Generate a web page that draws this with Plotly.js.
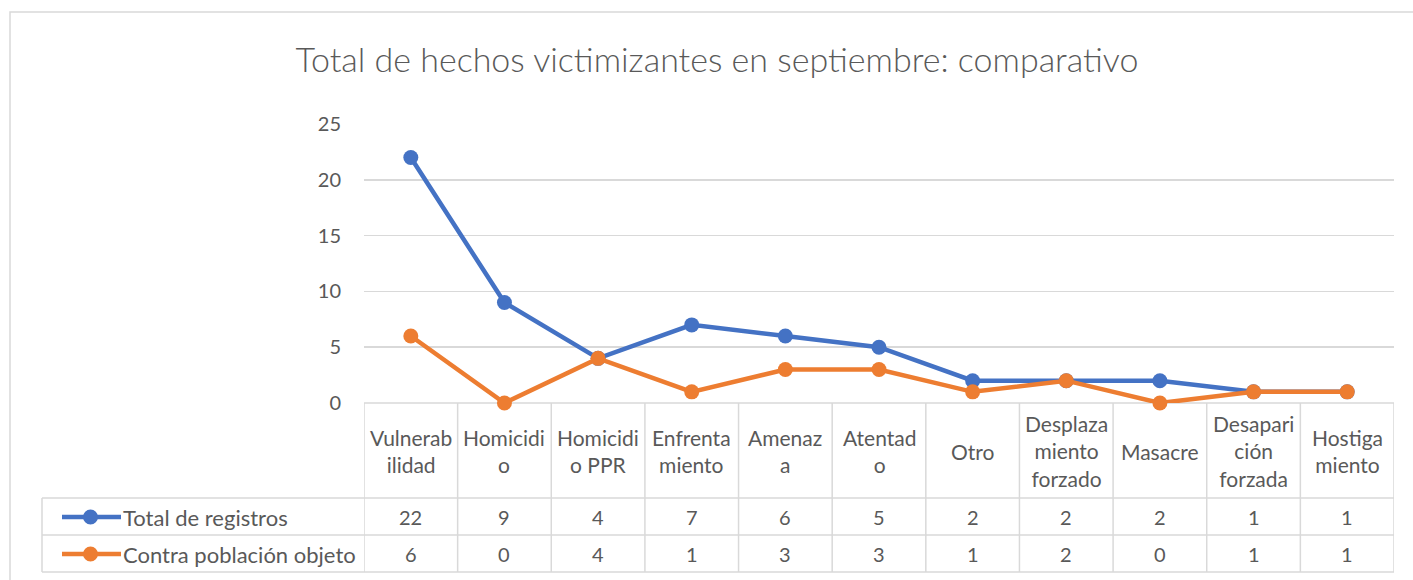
<!DOCTYPE html>
<html>
<head>
<meta charset="utf-8">
<script src="https://cdn.plot.ly/plotly-3.0.1.min.js"></script>
<style>html,body{margin:0;padding:0;background:#fff;}#chart{width:1413px;height:580px;}</style>
</head>
<body>
<div id="chart"></div>
<script>
// ---- data ----
const categoryLabels = [
  "Vulnerab<br>ilidad", "Homicidi<br>o", "Homicidi<br>o PPR", "Enfrenta<br>miento",
  "Amenaz<br>a", "Atentad<br>o", "Otro", "Desplaza<br>miento<br>forzado",
  "Masacre", "Desapari<br>ción<br>forzada", "Hostiga<br>miento"
];
const seriesNames = ["Total de registros", "Contra población objeto"];
const totalRegistros = [22, 9, 4, 7, 6, 5, 2, 2, 2, 1, 1];
const contraPoblacion = [6, 0, 4, 1, 3, 3, 1, 2, 0, 1, 1];
const yTicks = [0, 5, 10, 15, 20, 25];
const chartTitle = "Total de hechos victimizantes en septiembre: comparativo";

// ---- layout geometry (pixels) ----
const W = 1413, H = 580;
const PL = 364, PR = 1394, PT = 124, PB = 403;
const px = v => (v - PL) / (PR - PL);
const py = v => (PB - v) / (PB - PT);
const colors = ["#4472C4", "#ED7D31"];
const grid = "#D9D9D9";
const txt = "#595959";
const FONT = "Lato, 'Open Sans', sans-serif";

const n = categoryLabels.length;
const xs = categoryLabels.map((_, i) => i);
const seriesData = [totalRegistros, contraPoblacion];

const traces = seriesData.map((vals, k) => ({
  x: xs, y: vals, type: "scatter", mode: "lines+markers",
  name: seriesNames[k],
  line: {color: colors[k], width: 4.5},
  marker: {color: colors[k], size: 15},
  cliponaxis: false, hoverinfo: "skip"
}));

const shapes = [];
const annotations = [];
// outer frame
shapes.push({type: "rect", xref: "paper", yref: "paper",
  x0: px(10), x1: px(1425), y0: py(595), y1: py(12),
  line: {color: grid, width: 1.5}, layer: "below"});

const rowTop = 498, row1 = 535, row2 = 572, legL = 42;
// horizontal table lines
shapes.push({type: "line", xref: "paper", yref: "paper", x0: px(PL), x1: px(PR), y0: py(PB), y1: py(PB), line: {color: grid, width: 1.5}, layer: "below"});
[rowTop, row1, row2].forEach(y => shapes.push({type: "line", xref: "paper", yref: "paper", x0: px(legL), x1: px(PR), y0: py(y), y1: py(y), line: {color: grid, width: 1.5}, layer: "below"}));
// left edge of legend column
shapes.push({type: "line", xref: "paper", yref: "paper", x0: px(legL), x1: px(legL), y0: py(rowTop), y1: py(row2), line: {color: grid, width: 1.5}, layer: "below"});
// vertical category boundaries
for (let i = 0; i <= n; i++) {
  shapes.push({type: "line", xref: "x", yref: "paper", x0: i - 0.5, x1: i - 0.5, y0: py(PB), y1: py(row2), line: {color: grid, width: 1.5}, layer: "below"});
}
// category labels
categoryLabels.forEach((c, i) => annotations.push({
  xref: "x", yref: "paper", x: i, y: py(451), text: c, showarrow: false,
  xanchor: "center", yanchor: "middle", font: {family: FONT, size: 21, color: txt}
}));
// table values + legend keys
const rowCenters = [517, 554];
seriesData.forEach((vals, k) => {
  const yc = rowCenters[k];
  vals.forEach((v, i) => annotations.push({
    xref: "x", yref: "paper", x: i, y: py(yc), text: String(v), showarrow: false,
    xanchor: "center", yanchor: "middle", font: {family: FONT, size: 20, color: txt}
  }));
  shapes.push({type: "line", xref: "paper", yref: "paper", x0: px(62), x1: px(121), y0: py(yc), y1: py(yc), line: {color: colors[k], width: 4.5}});
  shapes.push({type: "circle", xref: "paper", yref: "paper", x0: px(83), x1: px(98), y0: py(yc + 7.5), y1: py(yc - 7.5), fillcolor: colors[k], line: {color: colors[k], width: 0}});
  annotations.push({xref: "paper", yref: "paper", x: px(121), y: py(yc), text: seriesNames[k], showarrow: false,
    xanchor: "left", yanchor: "middle", font: {family: FONT, size: 22, color: txt}});
});

const layout = {
  width: W, height: H,
  margin: {l: PL, r: W - PR, t: PT, b: H - PB, pad: 0},
  paper_bgcolor: "#fff", plot_bgcolor: "#fff",
  showlegend: false,
  title: {text: chartTitle, x: 717 / W, xref: "container", xanchor: "center", y: 1 - 60 / H, yref: "container", yanchor: "middle",
    font: {family: FONT, size: 34, color: txt, weight: 300}},
  xaxis: {range: [-0.5, n - 0.5], showgrid: false, zeroline: false, showline: false, showticklabels: false, ticks: "", fixedrange: true},
  yaxis: {range: [0, 25], tickvals: yTicks, ticktext: yTicks.map(String), showgrid: true, gridcolor: grid, gridwidth: 1.5,
    zeroline: false, showline: false, ticks: "", ticklabelstandoff: 22, tickfont: {family: FONT, size: 20, color: txt}, fixedrange: true},
  shapes: shapes, annotations: annotations
};
Plotly.newPlot("chart", traces, layout, {displayModeBar: false, staticPlot: true});
</script>
</body>
</html>
